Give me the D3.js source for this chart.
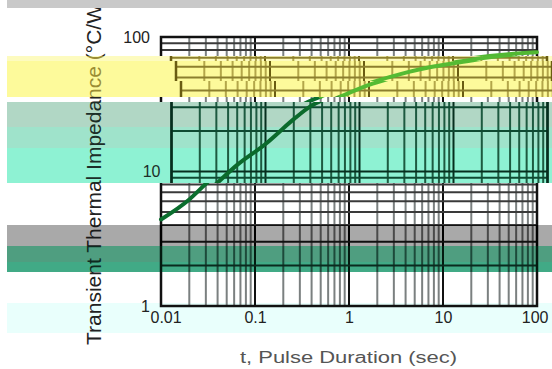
<!DOCTYPE html>
<html>
<head>
<meta charset="utf-8">
<script src="https://cdn.jsdelivr.net/npm/d3@7"></script>
<style>
  html, body { margin: 0; padding: 0; background: #fff; }
  svg { display: block; }
</style>
</head>
<body>
<script>
// ---------- data ----------
const timeSec   = [0.01, 0.02, 0.03, 0.05, 0.1, 0.2, 0.3, 0.5, 1, 2, 3, 5, 10, 20, 50, 100];
const zthValues = [4.4, 6.2, 8.1, 11.2, 16, 24.5, 30.5, 36, 44, 51, 55, 59.5, 64.5, 69.5, 74.5, 77];
const splitTime = 0.5; // curve colour changes here
const tickValuesX = [0.01, 0.1, 1, 10, 100];
const tickLabelsX = ["0.01", "0.1", "1", "10", "100"];
const tickValuesY = [1, 10, 100];
const tickLabelsY = ["1", "10", "100"];
const titleX = "t, Pulse Duration (sec)";
const titleY = "Transient Thermal Impedance (°C/W)";

// ---------- setup ----------
const W = 552, H = 369;
const svg = d3.select("body").append("svg").attr("width", W).attr("height", H);
svg.append("rect").attr("width", W).attr("height", H).attr("fill", "#fff");
const defs = svg.append("defs");

const x = d3.scaleLog().domain([0.01, 100]).range([161, 537]);
const y = d3.scaleLog().domain([1, 100]).range([306, 37]);
const [px0, px1] = x.range();
const [py1, py0] = y.range();
const isMajor = v => Math.abs(Math.log10(v) - Math.round(Math.log10(v))) < 1e-9;

// ---------- chart (reusable) ----------
const chart = defs.append("g").attr("id", "chart");

chart.selectAll(".vx").data(x.ticks()).join("line")
  .attr("x1", d => x(d)).attr("x2", d => x(d))
  .attr("y1", py0).attr("y2", py1)
  .attr("style", d => isMajor(d)
    ? "stroke:var(--gm,#111);stroke-width:2"
    : "stroke:var(--gv,#7b8080);stroke-width:2");

chart.selectAll(".hy").data(y.ticks()).join("line")
  .attr("y1", d => y(d)).attr("y2", d => y(d))
  .attr("x1", px0).attr("x2", px1)
  .attr("style", d => isMajor(d)
    ? "stroke:var(--gm,#111);stroke-width:2"
    : "stroke:var(--gh,#3a3a3a);stroke-width:2");

chart.append("rect")
  .attr("x", px0).attr("y", py0).attr("width", px1 - px0).attr("height", py1 - py0)
  .attr("style", "fill:none;stroke:var(--gm,#111);stroke-width:2.5");

const pts = timeSec.map((t, i) => ({ t, z: zthValues[i] }));
const line = d3.line().x(d => x(d.t)).y(d => y(d.z)).curve(d3.curveMonotoneX);
chart.append("path").datum(pts.filter(d => d.t <= splitTime))
  .attr("d", line)
  .attr("style", "fill:none;stroke:var(--cd,#0b6e2e);stroke-width:4;stroke-linecap:round");
chart.append("path").datum(pts.filter(d => d.t >= splitTime))
  .attr("d", line)
  .attr("style", "fill:none;stroke:var(--cl,#52b833);stroke-width:4;stroke-linecap:round");

const ax = chart.append("g").attr("transform", `translate(0,${py1})`)
  .call(d3.axisBottom(x).tickValues(tickValuesX).tickFormat((d, i) => tickLabelsX[i]).tickSize(0).tickPadding(6));
ax.select(".domain").remove();
ax.selectAll("text")
  .attr("text-anchor", (d, i) => i === 0 ? "start" : (i === tickValuesX.length - 1 ? "end" : "middle"))
  .attr("dx", (d, i) => i === 0 ? -11 : (i === tickValuesX.length - 1 ? 11 : 0));

const ay = chart.append("g").attr("transform", `translate(${px0},0)`)
  .call(d3.axisLeft(y).tickValues(tickValuesY).tickFormat((d, i) => tickLabelsY[i]).tickSize(0).tickPadding(11));
ay.select(".domain").remove();

chart.selectAll(".tick text")
  .attr("style", "fill:var(--tx,#222);font-family:'Liberation Sans',Arial,sans-serif;font-size:16px");

// ---------- titles (reusable) ----------
const title = defs.append("g").attr("id", "title");
title.append("text")
  .attr("transform", "translate(101,345) rotate(-90)")
  .attr("text-anchor", "start")
  .attr("style", "fill:var(--tx,#222);font-family:'Liberation Sans',Arial,sans-serif;font-size:21px")
  .text(titleY);
title.append("text")
  .attr("x", 240).attr("y", 363)
  .attr("textLength", 217).attr("lengthAdjust", "spacingAndGlyphs")
  .attr("style", "fill:var(--tx2,#555);font-family:'Liberation Sans',Arial,sans-serif;font-size:16px")
  .text(titleX);

// ---------- base render ----------
svg.append("use").attr("href", "#title");
svg.append("use").attr("href", "#chart");

// ---------- colour bands (scan-line glitches) ----------
const yellowVars = "--gv:#b3a64a;--gh:#8c7f2e;--gm:#6a5c12;--tx:#9a8c34;--cl:#55bb33;--cd:#3f8f2a";
const tealVars   = "--gv:#1d5a40;--gh:#0f4a32;--gm:#062e1e;--tx:#1c2e28;--cd:#0b6a2c;--cl:#2f9a40";
const grayVars   = "--gv:#4a4a4a;--gh:#111;--gm:#000;--tx:#1a1a1a";
const greenVars  = "--gv:#1d4a3a;--gh:#0a2a1e;--gm:#031a10;--tx:#0e2a20";
const bands = [
  { y0: 0,   y1: 8,   bg: "#c9c9c9", dx: 0,    vars: null },
  { y0: 56,  y1: 61,  bg: "#fdfbbf", dx: 10,   vars: yellowVars },
  { y0: 61,  y1: 81,  bg: "#fdfa9b", dx: 15,   vars: yellowVars },
  { y0: 81,  y1: 97,  bg: "#fdfa9b", dx: 20,   vars: yellowVars },
  { y0: 102, y1: 127, bg: "#b1d7c5", dx: 10.5, vars: tealVars },
  { y0: 127, y1: 148, bg: "#9fe3cb", dx: 10.5, vars: tealVars },
  { y0: 148, y1: 183, bg: "#8ef2d3", dx: 10.5, vars: tealVars },
  { y0: 225, y1: 246, bg: "#a9a9a9", dx: 0,    vars: grayVars },
  { y0: 246, y1: 262, bg: "#4f9e80", dx: 0,    vars: greenVars },
  { y0: 262, y1: 272, bg: "#41aa86", dx: 0,    vars: greenVars },
  { y0: 303, y1: 333, bg: "#e9fffc", dx: 0,    vars: "" }
];
bands.forEach((b, i) => {
  defs.append("clipPath").attr("id", "band" + i)
    .append("rect").attr("x", 7).attr("y", b.y0).attr("width", W - 7).attr("height", b.y1 - b.y0);
  const g = svg.append("g").attr("clip-path", `url(#band${i})`);
  if (b.vars) g.attr("style", b.vars);
  g.append("rect").attr("x", 7).attr("y", b.y0).attr("width", W - 7).attr("height", b.y1 - b.y0).attr("fill", b.bg);
  if (b.vars !== null) {
    g.append("use").attr("href", "#title");
    g.append("use").attr("href", "#chart").attr("transform", `translate(${b.dx},0)`);
  }
});
</script>
</body>
</html>
